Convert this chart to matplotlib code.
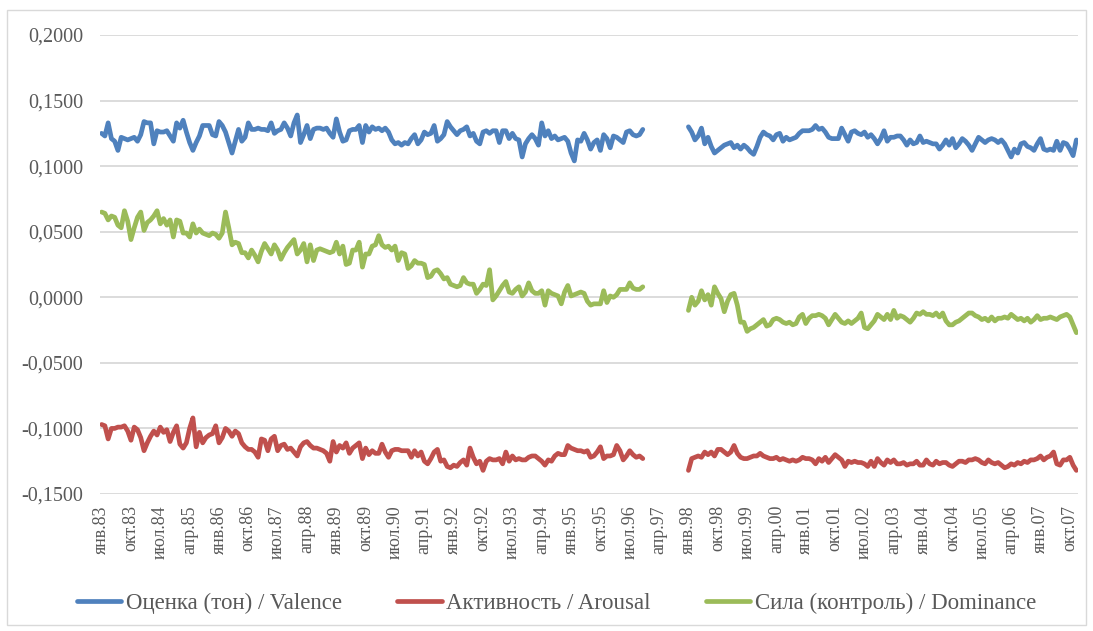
import numpy as np
import matplotlib
matplotlib.use('Agg')
import matplotlib.pyplot as plt
from matplotlib.patches import Rectangle

plt.rcParams['font.family'] = ['Liberation Serif', 'DejaVu Serif']

# ось X: помесячно янв.83 - дек.07, пропуск дек.96 - дек.97
n_months = 300
gap_len = 13

tick_labels = ['янв.83', 'окт.83', 'июл.84', 'апр.85', 'янв.86', 'окт.86', 'июл.87', 'апр.88',
               'янв.89', 'окт.89', 'июл.90', 'апр.91', 'янв.92', 'окт.92', 'июл.93', 'апр.94',
               'янв.95', 'окт.95', 'июл.96', 'апр.97', 'янв.98', 'окт.98', 'июл.99', 'апр.00',
               'янв.01', 'окт.01', 'июл.02', 'апр.03', 'янв.04', 'окт.04', 'июл.05', 'апр.06',
               'янв.07', 'окт.07']
y_ticks = [0.2, 0.15, 0.1, 0.05, 0.0, -0.05, -0.1, -0.15]
y_labels = ['0,2000', '0,1500', '0,1000', '0,0500', '0,0000', '-0,0500', '-0,1000', '-0,1500']

series_names = ['Оценка (тон) / Valence', 'Активность / Arousal', 'Сила (контроль) / Dominance']
series_colors = ['#4F81BD', '#C0504D', '#9BBB59']

# янв.83 - ноя.96
valence_a = [
    0.125, 0.123, 0.133, 0.121, 0.119, 0.112, 0.122, 0.121, 0.120, 0.121,
    0.122, 0.119, 0.124, 0.134, 0.133, 0.133, 0.117, 0.127, 0.126, 0.126,
    0.127, 0.123, 0.119, 0.133, 0.129, 0.135, 0.126, 0.118, 0.112, 0.118,
    0.123, 0.131, 0.131, 0.131, 0.124, 0.123, 0.134, 0.131, 0.126, 0.118,
    0.110, 0.119, 0.128, 0.119, 0.122, 0.133, 0.128, 0.128, 0.129, 0.128,
    0.128, 0.127, 0.133, 0.125, 0.127, 0.128, 0.133, 0.129, 0.123, 0.133,
    0.139, 0.118, 0.124, 0.131, 0.121, 0.128, 0.129, 0.129, 0.128, 0.129,
    0.125, 0.122, 0.136, 0.126, 0.119, 0.120, 0.127, 0.128, 0.128, 0.131,
    0.118, 0.131, 0.126, 0.130, 0.128, 0.129, 0.127, 0.129, 0.126, 0.120,
    0.117, 0.118, 0.116, 0.118, 0.117, 0.121, 0.124, 0.117, 0.120, 0.126,
    0.124, 0.125, 0.131, 0.119, 0.121, 0.124, 0.134, 0.130, 0.127, 0.124,
    0.127, 0.128, 0.130, 0.123, 0.125, 0.119, 0.117, 0.126, 0.127, 0.125,
    0.127, 0.127, 0.118, 0.127, 0.127, 0.121, 0.125, 0.121, 0.120, 0.107,
    0.117, 0.121, 0.124, 0.121, 0.116, 0.133, 0.123, 0.127, 0.121, 0.123,
    0.120, 0.121, 0.122, 0.119, 0.110, 0.104, 0.120, 0.119, 0.125, 0.120,
    0.113, 0.118, 0.120, 0.112, 0.124, 0.121, 0.114, 0.123, 0.122, 0.120,
    0.118, 0.126, 0.127, 0.124, 0.123, 0.124, 0.128]
# янв.98 - дек.07
valence_b = [
    0.130, 0.126, 0.120, 0.123, 0.129, 0.117, 0.122, 0.115, 0.110, 0.112,
    0.114, 0.116, 0.117, 0.118, 0.114, 0.116, 0.113, 0.116, 0.114, 0.111,
    0.109, 0.115, 0.122, 0.126, 0.124, 0.123, 0.120, 0.124, 0.125, 0.119,
    0.122, 0.120, 0.121, 0.122, 0.125, 0.127, 0.127, 0.127, 0.128, 0.131,
    0.128, 0.129, 0.126, 0.122, 0.121, 0.121, 0.121, 0.129, 0.124, 0.119,
    0.126, 0.127, 0.125, 0.124, 0.126, 0.122, 0.124, 0.121, 0.117, 0.121,
    0.127, 0.119, 0.122, 0.122, 0.123, 0.123, 0.120, 0.116, 0.120, 0.117,
    0.118, 0.123, 0.118, 0.119, 0.118, 0.117, 0.117, 0.113, 0.116, 0.120,
    0.116, 0.121, 0.114, 0.117, 0.121, 0.119, 0.116, 0.112, 0.117, 0.122,
    0.120, 0.118, 0.120, 0.121, 0.120, 0.118, 0.120, 0.117, 0.112, 0.107,
    0.113, 0.110, 0.117, 0.118, 0.115, 0.114, 0.112, 0.117, 0.121, 0.113,
    0.112, 0.113, 0.112, 0.119, 0.112, 0.118, 0.117, 0.113, 0.108, 0.120]

arousal_a = [
    -0.097, -0.098, -0.108, -0.100, -0.100, -0.099, -0.099, -0.098, -0.102, -0.109,
    -0.099, -0.101, -0.107, -0.117, -0.111, -0.106, -0.102, -0.105, -0.099, -0.103,
    -0.101, -0.110, -0.103, -0.098, -0.112, -0.115, -0.111, -0.100, -0.092, -0.114,
    -0.103, -0.111, -0.107, -0.105, -0.104, -0.098, -0.111, -0.107, -0.100, -0.102,
    -0.106, -0.102, -0.104, -0.111, -0.114, -0.116, -0.116, -0.118, -0.122, -0.108,
    -0.109, -0.117, -0.108, -0.106, -0.117, -0.113, -0.112, -0.116, -0.115, -0.118,
    -0.121, -0.114, -0.111, -0.110, -0.113, -0.115, -0.115, -0.116, -0.117, -0.119,
    -0.125, -0.110, -0.118, -0.113, -0.115, -0.111, -0.119, -0.115, -0.113, -0.111,
    -0.123, -0.115, -0.120, -0.117, -0.119, -0.119, -0.112, -0.118, -0.122, -0.117,
    -0.116, -0.116, -0.117, -0.117, -0.117, -0.122, -0.117, -0.121, -0.118, -0.125,
    -0.127, -0.123, -0.118, -0.116, -0.125, -0.124, -0.129, -0.130, -0.128, -0.129,
    -0.126, -0.124, -0.128, -0.115, -0.122, -0.127, -0.125, -0.132, -0.125, -0.123,
    -0.124, -0.124, -0.123, -0.127, -0.118, -0.125, -0.121, -0.124, -0.123, -0.124,
    -0.124, -0.122, -0.121, -0.121, -0.123, -0.125, -0.128, -0.124, -0.125, -0.121,
    -0.119, -0.120, -0.120, -0.113, -0.115, -0.116, -0.117, -0.117, -0.118, -0.117,
    -0.122, -0.121, -0.118, -0.114, -0.123, -0.121, -0.121, -0.120, -0.113, -0.117,
    -0.124, -0.121, -0.117, -0.120, -0.122, -0.121, -0.123]
arousal_b = [
    -0.132, -0.123, -0.122, -0.121, -0.122, -0.118, -0.120, -0.118, -0.121, -0.116,
    -0.116, -0.118, -0.120, -0.118, -0.113, -0.119, -0.122, -0.123, -0.123, -0.122,
    -0.121, -0.121, -0.119, -0.121, -0.122, -0.123, -0.123, -0.122, -0.124, -0.123,
    -0.124, -0.125, -0.124, -0.125, -0.124, -0.122, -0.123, -0.123, -0.124, -0.127,
    -0.123, -0.125, -0.122, -0.126, -0.123, -0.120, -0.122, -0.124, -0.129, -0.125,
    -0.126, -0.125, -0.126, -0.126, -0.127, -0.129, -0.125, -0.129, -0.123, -0.126,
    -0.128, -0.124, -0.126, -0.124, -0.127, -0.127, -0.126, -0.128, -0.127, -0.127,
    -0.125, -0.128, -0.128, -0.124, -0.127, -0.128, -0.125, -0.127, -0.126, -0.126,
    -0.128, -0.129, -0.127, -0.125, -0.125, -0.126, -0.124, -0.124, -0.123, -0.124,
    -0.126, -0.127, -0.124, -0.126, -0.127, -0.126, -0.128, -0.130, -0.129, -0.127,
    -0.128, -0.126, -0.127, -0.125, -0.126, -0.124, -0.124, -0.123, -0.121, -0.124,
    -0.122, -0.121, -0.118, -0.127, -0.128, -0.124, -0.124, -0.122, -0.128, -0.132]

dominance_a = [
    0.065, 0.064, 0.059, 0.062, 0.061, 0.055, 0.053, 0.066, 0.058, 0.044,
    0.053, 0.061, 0.065, 0.051, 0.057, 0.059, 0.062, 0.066, 0.056, 0.060,
    0.055, 0.059, 0.046, 0.059, 0.058, 0.049, 0.049, 0.046, 0.056, 0.049,
    0.052, 0.049, 0.048, 0.047, 0.049, 0.048, 0.045, 0.049, 0.065, 0.053,
    0.040, 0.042, 0.041, 0.034, 0.034, 0.030, 0.036, 0.032, 0.027, 0.035,
    0.041, 0.037, 0.033, 0.040, 0.036, 0.029, 0.034, 0.038, 0.041, 0.044,
    0.033, 0.036, 0.041, 0.027, 0.040, 0.028, 0.036, 0.037, 0.036, 0.035,
    0.034, 0.035, 0.042, 0.033, 0.039, 0.025, 0.026, 0.036, 0.036, 0.042,
    0.023, 0.033, 0.033, 0.039, 0.040, 0.047, 0.040, 0.038, 0.039, 0.036,
    0.039, 0.028, 0.034, 0.033, 0.022, 0.024, 0.028, 0.026, 0.026, 0.025,
    0.015, 0.016, 0.020, 0.021, 0.018, 0.014, 0.015, 0.010, 0.009, 0.008,
    0.009, 0.015, 0.011, 0.010, 0.010, 0.003, 0.006, 0.010, 0.009, 0.021,
    -0.002, 0.001, 0.005, 0.009, 0.012, 0.004, 0.003, 0.006, 0.008, 0.001,
    0.004, 0.011, 0.005, 0.003, 0.003, 0.005, -0.006, 0.005, 0.003, 0.002,
    0.001, -0.005, 0.004, 0.009, 0.001, 0.002, 0.003, 0.004, 0.003, -0.003,
    -0.006, -0.005, -0.005, -0.005, 0.005, -0.004, 0.001, 0.000, 0.002, 0.006,
    0.006, 0.006, 0.011, 0.007, 0.006, 0.006, 0.008]
dominance_b = [
    -0.010, 0.000, -0.006, -0.003, 0.005, -0.002, 0.002, -0.006, 0.008, 0.003,
    -0.001, -0.011, -0.003, 0.002, 0.003, -0.006, -0.019, -0.019, -0.026, -0.024,
    -0.023, -0.021, -0.019, -0.017, -0.022, -0.021, -0.017, -0.016, -0.017, -0.019,
    -0.020, -0.019, -0.021, -0.020, -0.015, -0.013, -0.020, -0.016, -0.014, -0.014,
    -0.013, -0.014, -0.016, -0.021, -0.017, -0.013, -0.016, -0.019, -0.020, -0.018,
    -0.020, -0.018, -0.016, -0.012, -0.023, -0.024, -0.021, -0.018, -0.013, -0.015,
    -0.017, -0.013, -0.017, -0.010, -0.016, -0.014, -0.015, -0.017, -0.019, -0.016,
    -0.012, -0.013, -0.011, -0.013, -0.013, -0.014, -0.012, -0.015, -0.012, -0.018,
    -0.021, -0.021, -0.019, -0.018, -0.016, -0.014, -0.012, -0.012, -0.014, -0.015,
    -0.017, -0.016, -0.018, -0.015, -0.018, -0.016, -0.016, -0.015, -0.016, -0.013,
    -0.015, -0.017, -0.016, -0.018, -0.016, -0.019, -0.017, -0.014, -0.017, -0.016,
    -0.016, -0.015, -0.016, -0.017, -0.015, -0.014, -0.013, -0.015, -0.021, -0.027]


def with_gap(a, b):
    return np.array(a + [np.nan] * gap_len + b)


x = np.arange(n_months)
series = [with_gap(valence_a, valence_b),
          with_gap(arousal_a, arousal_b),
          with_gap(dominance_a, dominance_b)]

W, H = 1093, 631
fig = plt.figure(figsize=(W / 100, H / 100), dpi=100)
ax = fig.add_axes([100 / W, 1 - 494 / H, 978 / W, 459 / H])

handles = []
for y, name, col in zip(series, series_names, series_colors):
    h, = ax.plot(x, y, color=col, lw=3.4, solid_joinstyle='round',
                 solid_capstyle='round', label=name, zorder=3)
    handles.append(h)

ax.set_xlim(-0.5, n_months - 0.5)
ax.set_ylim(-0.15, 0.2)
ax.set_yticks(y_ticks)
ax.set_yticklabels(y_labels)
ax.set_xticks(np.arange(0, n_months, 9))
ax.set_xticklabels(tick_labels, rotation=90)
ax.tick_params(axis='y', length=0, pad=12, labelsize=14.5, labelcolor='#595959')
ax.tick_params(axis='x', length=0, pad=8, labelsize=13, labelcolor='#595959')
ax.grid(axis='y', color='#D9D9D9', lw=1.3)
ax.set_axisbelow(True)
for s in ax.spines.values():
    s.set_visible(False)

fig.legend(handles, series_names, loc='center', bbox_to_anchor=(0.5 + 10 / W, 1 - 603 / H),
           ncol=3, frameon=False, fontsize=16.5, handlelength=1.95, handletextpad=0.2,
           columnspacing=2.4, labelcolor='#595959')

fig.patches.append(Rectangle((7 / W, 6 / H), 1079 / W, 615 / H, transform=fig.transFigure,
                             fill=False, edgecolor='#D9D9D9', lw=1))

fig.savefig('out.png', dpi=100)
